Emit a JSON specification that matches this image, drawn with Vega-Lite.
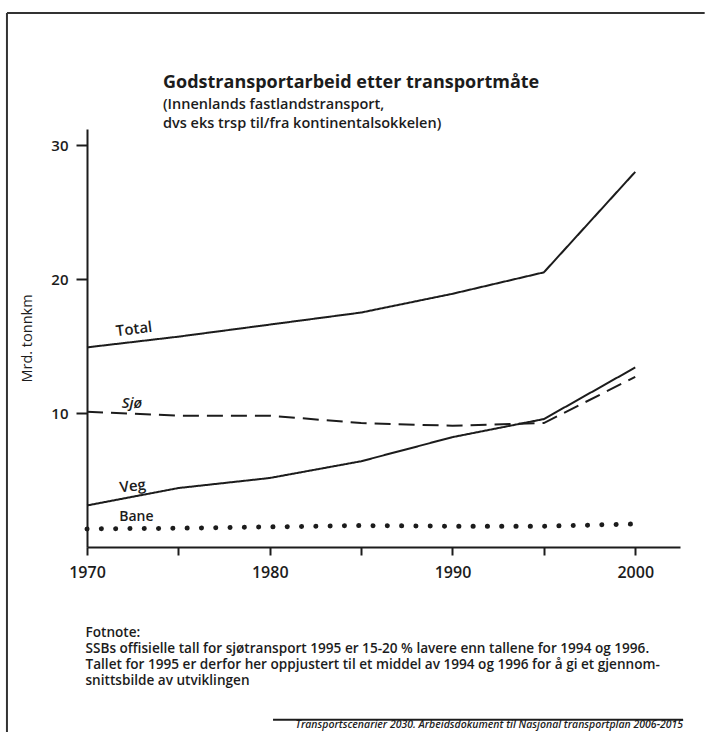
{
  "$schema": "https://vega.github.io/schema/vega-lite/v6.json",
  "autosize": "none",
  "width": 593,
  "height": 418,
  "padding": {"left": 87, "top": 129, "right": 32, "bottom": 185},
  "background": "#ffffff",
  "title": {
    "text": "Godstransportarbeid etter transportmåte",
    "subtitle": ["(Innenlands fastlandstransport,", "dvs eks trsp til/fra kontinentalsokkelen)"],
    "anchor": "start",
    "frame": "group",
    "dx": 76,
    "offset": -118,
    "font": "Open Sans",
    "fontSize": 18,
    "fontWeight": "bold",
    "color": "#1c1c1c",
    "subtitleFont": "Open Sans",
    "subtitleFontSize": 14.5,
    "subtitleFontWeight": 600,
    "subtitleColor": "#1c1c1c",
    "subtitleLineHeight": 19,
    "subtitlePadding": 6
  },
  "datasets": {
    "series": [
      {"series": "Total", "year": 1970, "value": 14.9},
      {"series": "Total", "year": 1975, "value": 15.7},
      {"series": "Total", "year": 1980, "value": 16.6},
      {"series": "Total", "year": 1985, "value": 17.5},
      {"series": "Total", "year": 1990, "value": 18.9},
      {"series": "Total", "year": 1995, "value": 20.5},
      {"series": "Total", "year": 2000, "value": 28.0},
      {"series": "Sjø", "year": 1970, "value": 10.1},
      {"series": "Sjø", "year": 1975, "value": 9.8},
      {"series": "Sjø", "year": 1980, "value": 9.8},
      {"series": "Sjø", "year": 1985, "value": 9.25},
      {"series": "Sjø", "year": 1990, "value": 9.05},
      {"series": "Sjø", "year": 1995, "value": 9.25},
      {"series": "Sjø", "year": 2000, "value": 12.7},
      {"series": "Veg", "year": 1970, "value": 3.1},
      {"series": "Veg", "year": 1975, "value": 4.4},
      {"series": "Veg", "year": 1980, "value": 5.15},
      {"series": "Veg", "year": 1985, "value": 6.4},
      {"series": "Veg", "year": 1990, "value": 8.2},
      {"series": "Veg", "year": 1995, "value": 9.55},
      {"series": "Veg", "year": 2000, "value": 13.4},
      {"series": "Bane", "year": 1970, "value": 1.35},
      {"series": "Bane", "year": 1975, "value": 1.4},
      {"series": "Bane", "year": 1980, "value": 1.5},
      {"series": "Bane", "year": 1985, "value": 1.6},
      {"series": "Bane", "year": 1990, "value": 1.55},
      {"series": "Bane", "year": 1995, "value": 1.55},
      {"series": "Bane", "year": 2000, "value": 1.72}
    ],
    "labels": [
      {"label": "Total", "year": 1972.57, "value": 16.27},
      {"label": "Sjø", "year": 1972.46, "value": 10.75},
      {"label": "Veg", "year": 1972.5, "value": 4.55},
      {"label": "Bane", "year": 1972.7, "value": 2.24}
    ],
    "source": [
      {"note": "Transportscenarier 2030. Arbeidsdokument til Nasjonal transportplan 2006-2015", "year": 2002.62, "value": -13.5, "year2": 1980.18, "value2": -12.9}
    ],
    "frame": [
      {"side": "left", "year": 1965.62, "year2": 1965.62, "value": 39.85, "value2": -14},
      {"side": "top", "year": 1965.62, "year2": 2003.8, "value": 39.85, "value2": 39.85}
    ]
  },
  "encoding": {
    "x": {
      "field": "year",
      "type": "quantitative",
      "scale": {"domain": [1970, 2002.45], "nice": false, "zero": false},
      "axis": {
        "values": [1970, 1975, 1980, 1985, 1990, 1995, 2000],
        "format": "d",
        "labelExpr": "datum.value % 10 === 0 ? datum.label : ''",
        "labelFlush": false,
        "grid": false,
        "domainColor": "#1c1c1c",
        "domainWidth": 2,
        "tickColor": "#1c1c1c",
        "tickWidth": 2,
        "tickSize": 8,
        "labelPadding": 9,
        "labelFont": "Open Sans",
        "labelFontSize": 16,
        "labelFontWeight": 600,
        "labelColor": "#1c1c1c",
        "title": [
          "Fotnote:",
          "SSBs offisielle tall for sjøtransport 1995 er 15-20 % lavere enn tallene for 1994 og 1996.",
          "Tallet for 1995 er derfor her oppjustert til et middel av 1994 og 1996 for å gi et gjennom-",
          "snittsbilde av utviklingen"
        ],
        "titleAnchor": "start",
        "titleAlign": "left",
        "titleBaseline": "alphabetic",
        "titleX": -2,
        "titleY": 89,
        "titleFont": "Open Sans",
        "titleFontSize": 13.6,
        "titleFontWeight": 600,
        "titleLineHeight": 16,
        "titleColor": "#1c1c1c"
      }
    },
    "y": {
      "field": "value",
      "type": "quantitative",
      "scale": {"domain": [0, 31.2], "nice": false, "zero": false},
      "axis": {
        "values": [10, 20, 30],
        "grid": false,
        "domainColor": "#1c1c1c",
        "domainWidth": 2,
        "tickColor": "#1c1c1c",
        "tickWidth": 2,
        "tickSize": 11,
        "labelPadding": 8,
        "labelFont": "Open Sans",
        "labelFontSize": 15,
        "labelFontWeight": 600,
        "labelColor": "#1c1c1c",
        "title": "Mrd. tonnkm",
        "titleFont": "Open Sans",
        "titleFontSize": 14.5,
        "titleFontWeight": 500,
        "titleColor": "#1c1c1c",
        "titlePadding": 16
      }
    }
  },
  "layer": [
    {
      "data": {"name": "series"},
      "transform": [{"filter": "datum.series !== 'Bane'"}],
      "mark": {"type": "line", "color": "#1c1c1c", "strokeWidth": 2},
      "encoding": {
        "detail": {"field": "series"},
        "strokeDash": {
          "field": "series",
          "type": "nominal",
          "scale": {"domain": ["Total", "Sjø", "Veg"], "range": [[1, 0], [16, 8], [1, 0]]},
          "legend": null
        }
      }
    },
    {
      "data": {"name": "series"},
      "transform": [{"filter": "datum.series === 'Bane'"}],
      "mark": {"type": "line", "color": "#1c1c1c", "strokeWidth": 5, "strokeCap": "round", "strokeDash": [0.1, 14.2]},
      "encoding": {"detail": {"field": "series"}}
    },
    {
      "data": {"name": "labels"},
      "transform": [{"filter": "datum.label === 'Total' || datum.label === 'Veg'"}],
      "mark": {"type": "text", "font": "Open Sans", "fontSize": 15, "fontWeight": 600, "color": "#1c1c1c", "angle": 353},
      "encoding": {"text": {"field": "label"}}
    },
    {
      "data": {"name": "labels"},
      "transform": [{"filter": "datum.label === 'Sjø'"}],
      "mark": {"type": "text", "font": "Open Sans", "fontSize": 15, "fontWeight": 600, "fontStyle": "italic", "color": "#1c1c1c"},
      "encoding": {"text": {"field": "label"}}
    },
    {
      "data": {"name": "labels"},
      "transform": [{"filter": "datum.label === 'Bane'"}],
      "mark": {"type": "text", "font": "Open Sans", "fontSize": 14, "fontWeight": 600, "color": "#1c1c1c"},
      "encoding": {"text": {"field": "label"}}
    },
    {
      "data": {"name": "source"},
      "mark": {"type": "rule", "color": "#1c1c1c", "strokeWidth": 2},
      "encoding": {
        "x": {"field": "year2", "type": "quantitative"},
        "x2": {"field": "year"},
        "y": {"field": "value2", "type": "quantitative"}
      }
    },
    {
      "data": {"name": "source"},
      "mark": {"type": "text", "font": "Open Sans", "fontSize": 10.5, "fontStyle": "italic", "fontWeight": 600, "color": "#1c1c1c", "align": "right", "baseline": "alphabetic"},
      "encoding": {"text": {"field": "note"}}
    },
    {
      "data": {"name": "frame"},
      "mark": {"type": "rule", "color": "#333333", "strokeWidth": 2},
      "encoding": {
        "x2": {"field": "year2"},
        "y2": {"field": "value2"}
      }
    }
  ],
  "config": {
    "view": {"stroke": null}
  }
}
